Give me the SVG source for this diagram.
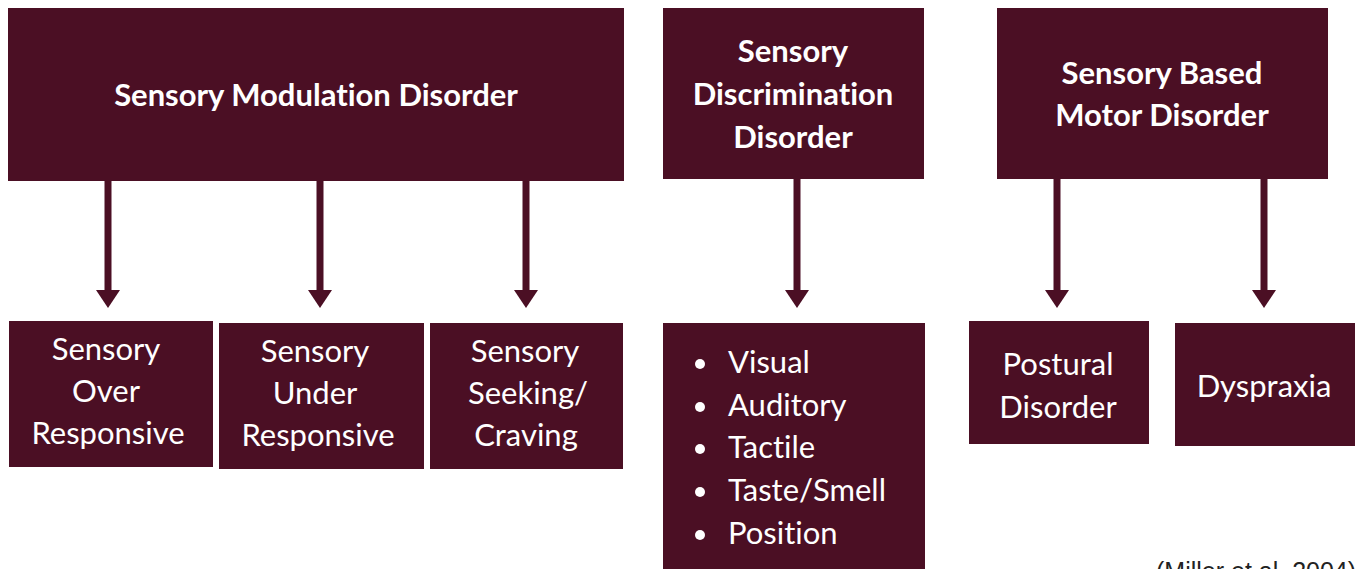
<svg xmlns="http://www.w3.org/2000/svg" width="1355" height="569" viewBox="0 0 1355 569">
<style>
.box{fill:#4B0F24}
.t{font-family:Lato,"Open Sans","Liberation Sans",sans-serif;fill:#ffffff;font-size:31px;text-anchor:middle;font-variant-ligatures:none}
.b{font-weight:bold}
.li{text-anchor:start}
.conn line{stroke:#4B0F24;stroke-width:7}
</style>
<defs>
<marker id="ah" markerWidth="18" markerHeight="24" refX="0" refY="12" markerUnits="userSpaceOnUse" orient="auto" viewBox="0 0 18 24">
<path d="M0,0 L18,12 L0,24 Z" fill="#4B0F24"/>
</marker>
</defs>
<rect width="1355" height="569" fill="#ffffff"/>
<g class="conn">
<line x1="108" y1="180" x2="108" y2="290" marker-end="url(#ah)"/>
<line x1="320" y1="180" x2="320" y2="290" marker-end="url(#ah)"/>
<line x1="526" y1="180" x2="526" y2="290" marker-end="url(#ah)"/>
<line x1="797" y1="178" x2="797" y2="290" marker-end="url(#ah)"/>
<line x1="1057" y1="178" x2="1057" y2="290" marker-end="url(#ah)"/>
<line x1="1264" y1="178" x2="1264" y2="290" marker-end="url(#ah)"/>
</g>
<g id="smd"><rect class="box" x="8" y="8" width="616" height="173"/><text class="t b" x="316" y="106">Sensory Modulation Disorder</text></g>
<g id="sdd"><rect class="box" x="663" y="8" width="261" height="171"/><text class="t b" x="793"><tspan x="793" y="62">Sensory</tspan><tspan x="793" y="105">Discrimination</tspan><tspan x="793" y="148">Disorder</tspan></text></g>
<g id="sbmd"><rect class="box" x="997" y="8" width="331" height="171"/><text class="t b" x="1162"><tspan x="1162" y="84">Sensory Based</tspan><tspan x="1162" y="126">Motor Disorder</tspan></text></g>
<g id="over"><rect class="box" x="9" y="321" width="204" height="146"/><text class="t"><tspan x="106" y="360">Sensory</tspan><tspan x="106" y="402">Over</tspan><tspan x="108" y="444">Responsive</tspan></text></g>
<g id="under"><rect class="box" x="219" y="323" width="205" height="146"/><text class="t"><tspan x="315" y="362">Sensory</tspan><tspan x="315" y="404">Under</tspan><tspan x="318" y="446">Responsive</tspan></text></g>
<g id="seeking"><rect class="box" x="430" y="323" width="193" height="146"/><text class="t"><tspan x="525" y="362">Sensory</tspan><tspan x="528" y="404">Seeking/</tspan><tspan x="526" y="446">Craving</tspan></text></g>
<g id="list"><rect class="box" x="663" y="323" width="262" height="246"/>
<g fill="#ffffff"><circle cx="700" cy="364" r="5"/><circle cx="700" cy="407" r="5"/><circle cx="700" cy="449" r="5"/><circle cx="700" cy="492" r="5"/><circle cx="700" cy="535" r="5"/></g>
<text class="t li"><tspan x="728" y="373">Visual</tspan><tspan x="728" y="416">Auditory</tspan><tspan x="728" y="458">Tactile</tspan><tspan x="728" y="501">Taste/Smell</tspan><tspan x="728" y="544">Position</tspan></text></g>
<g id="postural"><rect class="box" x="969" y="321" width="180" height="123"/><text class="t"><tspan x="1058" y="375">Postural</tspan><tspan x="1058" y="418">Disorder</tspan></text></g>
<g id="dyspraxia"><rect class="box" x="1175" y="323" width="180" height="123"/><text class="t" x="1264" y="397">Dyspraxia</text></g>
<text x="1156" y="580" font-family="'Liberation Sans',Arial,sans-serif" font-size="25" fill="#222222">(Miller et al. 2004)</text>
</svg>
